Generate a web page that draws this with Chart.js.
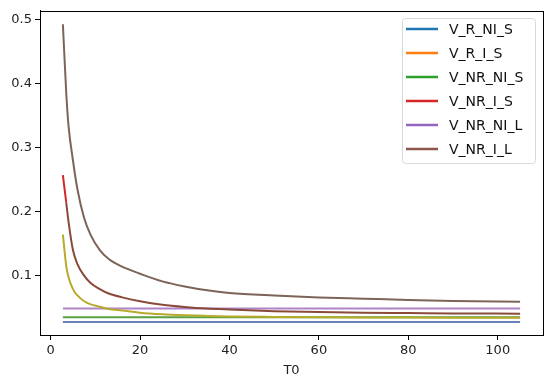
<!DOCTYPE html>
<html>
<head>
<meta charset="utf-8">
<script src="https://cdn.jsdelivr.net/npm/chart.js@4"></script>
<style>
  html, body { margin: 0; padding: 0; background: #fff; }
  #wrap { width: 550px; height: 385px; }
  #xtitle { position: absolute; left: 0; top: 362px; width: 583px; text-align: center;
            font: 13px 'DejaVu Sans', sans-serif; color: #222; }
</style>
</head>
<body>
<div id="wrap"><canvas id="chart" width="550" height="385"></canvas></div>
<div id="xtitle">T0</div>
<script>
// T0 values (x axis)
const t0 = [2.75, 3.5, 4, 5, 6, 7.5, 9, 11, 13, 16, 20, 25, 30, 35, 40, 50, 60, 70, 80, 90, 105];

// series
const vRNiS  = [0.0277, 0.0277, 0.0277, 0.0277, 0.0277, 0.0277, 0.0277, 0.0277, 0.0277, 0.0277, 0.0277,
                0.0277, 0.0277, 0.0277, 0.0277, 0.0277, 0.0277, 0.0277, 0.0277, 0.0277, 0.0277];
const vRIS   = [0.164, 0.115, 0.098, 0.079, 0.069, 0.060, 0.055, 0.0515, 0.048, 0.0455, 0.042,
                0.0395, 0.038, 0.037, 0.0362, 0.0355, 0.035, 0.0347, 0.0345, 0.0343, 0.034];
const vNrNiS = [0.035, 0.035, 0.035, 0.035, 0.035, 0.035, 0.035, 0.035, 0.035, 0.035, 0.035,
                0.035, 0.035, 0.035, 0.035, 0.035, 0.035, 0.035, 0.035, 0.035, 0.035];
const vNrIS  = [0.257, 0.214, 0.185, 0.140, 0.118, 0.100, 0.088, 0.079, 0.072, 0.066, 0.060,
                0.0545, 0.051, 0.0485, 0.047, 0.0445, 0.043, 0.042, 0.0415, 0.041, 0.0405];
const vNrNiL = [0.0486, 0.0486, 0.0486, 0.0486, 0.0486, 0.0486, 0.0486, 0.0486, 0.0486, 0.0486, 0.0486,
                0.0486, 0.0486, 0.0486, 0.0486, 0.0486, 0.0486, 0.0486, 0.0486, 0.0486, 0.0486];
const vNrIL  = [0.493, 0.385, 0.335, 0.280, 0.235, 0.190, 0.163, 0.140, 0.126, 0.114, 0.103,
                0.091, 0.083, 0.077, 0.073, 0.069, 0.066, 0.064, 0.062, 0.0605, 0.059];

const seriesNames = ['V_R_NI_S', 'V_R_I_S', 'V_NR_NI_S', 'V_NR_I_S', 'V_NR_NI_L', 'V_NR_I_L'];
const seriesValues = [vRNiS, vRIS, vNrNiS, vNrIS, vNrNiL, vNrIL];
const xTicks = [0, 20, 40, 60, 80, 100];
const yTicks = [0.1, 0.2, 0.3, 0.4, 0.5];

// legend colours (matplotlib defaults) and the colours the lines appear with
const legendColors = ['#1f77b4', '#ff7f0e', '#2ca02c', '#d62728', '#9467bd', '#8c564b'];
const lineColors   = ['#6a80b8', '#b8aa2c', '#5aa040', '#8a4a3a', '#b084c8', '#7d6458'];

const FONT = "'DejaVu Sans', sans-serif";

function toPoints(vals) {
    return vals.map((v, i) => ({ x: t0[i], y: v }));
}

const datasets = seriesNames.map((name, i) => {
    const ds = {
        label: name,
        data: toPoints(seriesValues[i]),
        borderColor: lineColors[i],
        backgroundColor: lineColors[i],
        borderWidth: 2,
        pointRadius: 0,
        cubicInterpolationMode: 'monotone',
        fill: false
    };
    if (name === 'V_NR_I_S') {
        // the first stretch shows red, the rest looks brown
        ds.segment = { borderColor: c => c.p0DataIndex === 0 ? '#d62728' : undefined };
    }
    return ds;
});

// frame + legend drawn inside the axes, like matplotlib
const framePlugin = {
    id: 'frame',
    afterDraw(chart) {
        const ctx = chart.ctx;
        const a = chart.chartArea;
        ctx.save();
        ctx.strokeStyle = '#000';
        ctx.lineWidth = 1;
        ctx.strokeRect(Math.round(a.left) + 0.5, Math.round(a.top) + 0.5,
                       Math.round(a.right - a.left), Math.round(a.bottom - a.top));

        // legend box
        const bx = 402, by = 18, bw = 133, bh = 145;
        ctx.fillStyle = 'rgba(255,255,255,0.8)';
        ctx.strokeStyle = '#d8d8d8';
        ctx.beginPath();
        ctx.roundRect(bx + 0.5, by + 0.5, bw, bh, 3);
        ctx.fill();
        ctx.stroke();

        ctx.font = '14px ' + FONT;
        ctx.textBaseline = 'middle';
        seriesNames.forEach((name, i) => {
            const y = 29 + i * 24;
            ctx.strokeStyle = legendColors[i];
            ctx.lineWidth = 2.5;
            ctx.beginPath();
            ctx.moveTo(406, y);
            ctx.lineTo(438, y);
            ctx.stroke();
            ctx.fillStyle = '#111';
            ctx.fillText(name, 449, y + 1);
        });
        ctx.restore();
    }
};

new Chart(document.getElementById('chart'), {
    type: 'line',
    data: { datasets: datasets },
    plugins: [framePlugin],
    options: {
        responsive: false,
        animation: false,
        layout: { padding: { top: 10, right: 7, left: 0, bottom: 0 } },
        plugins: {
            legend: { display: false },
            tooltip: { enabled: false }
        },
        scales: {
            x: {
                type: 'linear',
                min: -2.37,
                max: 110.12,
                afterBuildTicks: s => { s.ticks = xTicks.map(v => ({ value: v })); },
                afterFit: s => { s.height = 50; },
                ticks: {
                    color: '#222',
                    font: { family: FONT, size: 13 },
                    padding: 3,
                    maxRotation: 0,
                    callback: v => String(v)
                },
                grid: { drawOnChartArea: false, drawTicks: true, tickLength: 5, color: '#000' },
                border: { display: true, color: '#000' }
            },
            y: {
                type: 'linear',
                min: 0.0072,
                max: 0.514,
                afterBuildTicks: s => { s.ticks = yTicks.map(v => ({ value: v })); },
                afterFit: s => { s.width = 40; },
                ticks: {
                    color: '#222',
                    font: { family: FONT, size: 13 },
                    padding: 3,
                    callback: v => v.toFixed(1)
                },
                grid: { drawOnChartArea: false, drawTicks: true, tickLength: 5, color: '#000' },
                border: { display: true, color: '#000' }
            }
        }
    }
});
</script>
</body>
</html>
